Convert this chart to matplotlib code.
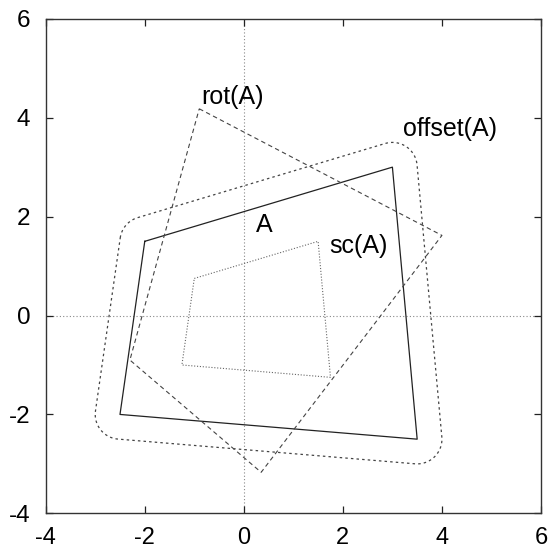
import numpy as np
import matplotlib
matplotlib.use("Agg")
import matplotlib.pyplot as plt

plt.rcParams['font.family'] = ['Liberation Sans', 'DejaVu Sans']

# Polygon A and its transforms
A_x = [-2.0, 3.0, 3.5, -2.5]
A_y = [1.5, 3.0, -2.5, -2.0]
rot_x = [-0.9, 4.0, 0.35, -2.3]
rot_y = [4.18, 1.62, -3.17, -0.9]
sc_x = [-1.0, 1.5, 1.75, -1.25]
sc_y = [0.75, 1.5, -1.25, -1.0]
offset_dist = 0.5

labels = ["rot(A)", "offset(A)", "A", "sc(A)"]
label_x = [-0.85, 3.22, 0.41, 1.72]
label_y = [4.42, 3.78, 1.83, 1.40]
label_ha = ["left", "left", "center", "left"]

ticks = [-4, -2, 0, 2, 4, 6]


def offset_polygon(xs, ys, d, n_arc=30):
    P = np.column_stack([xs, ys]).astype(float)
    n = len(P)
    area = 0.5 * np.sum(P[:, 0] * np.roll(P[:, 1], -1) - np.roll(P[:, 0], -1) * P[:, 1])
    sign = 1.0 if area > 0 else -1.0  # +1 ccw
    normals = []
    for i in range(n):
        e = P[(i + 1) % n] - P[i]
        e = e / np.linalg.norm(e)
        nrm = np.array([e[1], -e[0]]) * sign
        normals.append(nrm)
    pts = []
    for i in range(n):
        n_prev = normals[i - 1]
        n_next = normals[i]
        a0 = np.arctan2(n_prev[1], n_prev[0])
        a1 = np.arctan2(n_next[1], n_next[0])
        if sign > 0:
            while a1 < a0:
                a1 += 2 * np.pi
        else:
            while a1 > a0:
                a1 -= 2 * np.pi
        t = np.linspace(a0, a1, n_arc)
        for ang in t:
            pts.append(P[i] + d * np.array([np.cos(ang), np.sin(ang)]))
    pts.append(pts[0])
    pts = np.array(pts)
    return pts[:, 0], pts[:, 1]


fig = plt.figure(figsize=(5.48, 5.52), dpi=100)
ax = fig.add_axes([0.0834, 0.070, 0.9038, 0.896])

ax.axhline(0, color='#888888', lw=0.8, ls=(0, (1, 2)), zorder=1)
ax.axvline(0, color='#888888', lw=0.8, ls=(0, (1, 2)), zorder=1)

def closed(xs, ys):
    return list(xs) + [xs[0]], list(ys) + [ys[0]]

x, y = closed(A_x, A_y)
ax.plot(x, y, color='#222222', lw=0.9, ls='-')
x, y = closed(rot_x, rot_y)
ax.plot(x, y, color='#444444', lw=0.8, ls=(0, (4, 3)))
x, y = closed(sc_x, sc_y)
ax.plot(x, y, color='#666666', lw=0.8, ls=(0, (1, 1.6)))
ox, oy = offset_polygon(A_x, A_y, offset_dist)
ax.plot(ox, oy, color='#444444', lw=0.9, ls=(0, (2, 2.5)))

for t, lx, ly, ha in zip(labels, label_x, label_y, label_ha):
    ax.text(lx, ly, t, fontsize=18, ha=ha, va='center', color='black')

ax.set_xlim(-4, 6)
ax.set_ylim(-4, 6)
ax.set_xticks(ticks)
ax.set_yticks(ticks)
ax.set_xticklabels([str(t) for t in ticks])
ax.set_yticklabels([str(t) for t in ticks])
ax.tick_params(axis='both', direction='in', length=5, width=0.9, labelsize=17.5,
               top=True, right=True, color='#222222')
ax.tick_params(axis='x', pad=10, labelsize=17)
ax.tick_params(axis='y', pad=11)
for s in ax.spines.values():
    s.set_linewidth(1.0)
    s.set_color('#333333')

fig.savefig("out.png", dpi=100)
